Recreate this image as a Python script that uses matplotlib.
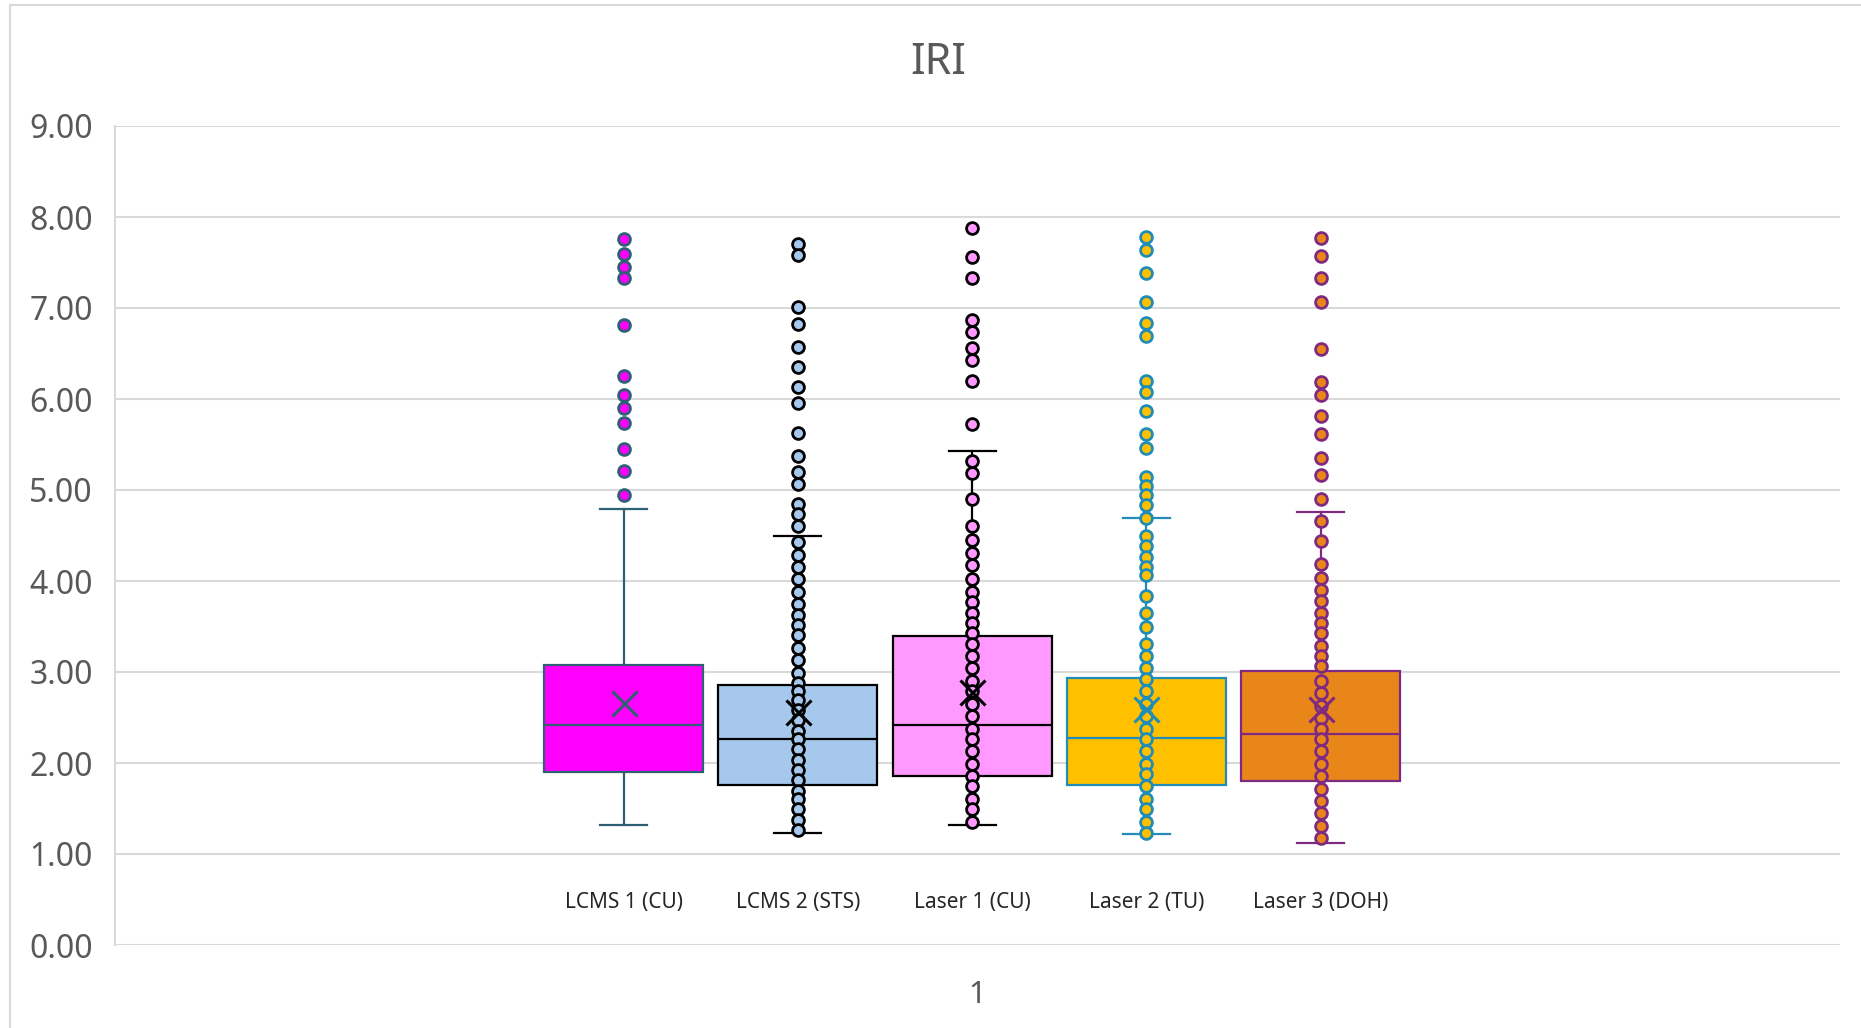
import matplotlib.pyplot as plt
from matplotlib.patches import Rectangle

plt.rcParams['font.family'] = ['Noto Sans', 'DejaVu Sans']

# --- datos del grafico IRI ---
categorias = ["LCMS 1 (CU)", "LCMS 2 (STS)", "Laser 1 (CU)", "Laser 2 (TU)", "Laser 3 (DOH)"]
q1 = [1.90, 1.76, 1.855, 1.755, 1.80]
mediana = [2.415, 2.265, 2.415, 2.279, 2.32]
q3 = [3.075, 2.857, 3.394, 2.934, 3.016]
bigote_inf = [1.323, 1.227, 1.323, 1.218, 1.118]
bigote_sup = [4.79, 4.495, 5.428, 4.691, 4.759]
media = [2.66, 2.56, 2.78, 2.59, 2.59]

atipicos = [
    [7.763, 7.59, 7.454, 7.326, 6.817, 6.248, 6.043, 5.906, 5.738, 5.451, 5.21, 4.941],
    [7.704, 7.577, 7.008, 6.826, 6.566, 6.348, 6.134, 5.952, 5.624, 5.369, 5.20, 5.064,
     4.846, 4.732, 4.60],
    [7.877, 7.558, 7.331, 6.871, 6.735, 6.557, 6.43, 6.202, 5.724],
    [7.782, 7.636, 7.386, 7.067, 6.83, 6.694, 6.202, 6.079, 5.87, 5.61, 5.465, 5.142,
     5.041, 4.941, 4.836],
    [7.772, 7.568, 7.331, 7.067, 6.553, 6.188, 6.043, 5.815, 5.61, 5.351, 5.169, 4.896],
]

# puntos interiores (LCMS 1 no los muestra)
interiores = [
    [],
    [4.427, 4.29, 4.154, 4.017, 3.88, 3.744, 3.63, 3.517, 3.403, 3.266, 3.13, 2.993,
     2.879, 2.788, 2.697, 2.584, 2.47, 2.356, 2.265, 2.151, 2.037, 1.923, 1.81, 1.696,
     1.605, 1.491, 1.377, 1.26],
    [5.324, 5.192, 4.896, 4.60, 4.45, 4.313, 4.177, 4.017, 3.88, 3.767, 3.653, 3.539,
     3.426, 3.312, 3.175, 3.039, 2.902, 2.788, 2.652, 2.515, 2.379, 2.265, 2.128, 1.992,
     1.855, 1.742, 1.605, 1.491, 1.355],
    [4.69, 4.495, 4.381, 4.268, 4.154, 4.063, 3.835, 3.653, 3.494, 3.312, 3.175, 3.048,
     2.925, 2.788, 2.652, 2.515, 2.379, 2.265, 2.128, 1.992, 1.878, 1.742, 1.605, 1.491,
     1.355, 1.227],
    [4.655, 4.436, 4.19, 4.031, 3.904, 3.776, 3.653, 3.539, 3.426, 3.289, 3.175, 3.061,
     2.902, 2.766, 2.629, 2.493, 2.379, 2.265, 2.128, 1.992, 1.855, 1.719, 1.582, 1.446,
     1.31, 1.18],
]

relleno = ["#FF00FF", "#A6C8EC", "#FF99FF", "#FFC000", "#E8861A"]
borde = ["#2F5F73", "#000000", "#000000", "#1F8DB8", "#7F2A80"]

gris = "#595959"
grid = "#D9D9D9"

fig = plt.figure(figsize=(18.61, 10.28), dpi=100)
ax = fig.add_axes([115 / 1861, 1 - 945 / 1028, (1840 - 115) / 1861, (945 - 126) / 1028])

# marco exterior del grafico
fig.patches.append(Rectangle((10 / 1861, -0.01), 1.0, 1 - 5 / 1028 + 0.01,
                             transform=fig.transFigure, fill=False,
                             edgecolor=grid, lw=1.5))

posiciones = [1, 2, 3, 4, 5]
ancho = 0.913
marca = dict(marker='o', markersize=8.5, markeredgewidth=2.0)

for i, pos in enumerate(posiciones):
    st = dict(q1=q1[i], med=mediana[i], q3=q3[i], whislo=bigote_inf[i],
              whishi=bigote_sup[i], mean=media[i], fliers=atipicos[i])
    ec = borde[i]
    ax.bxp([st], positions=[pos], widths=ancho, patch_artist=True, showmeans=True,
           capwidths=0.27,
           boxprops=dict(facecolor=relleno[i], edgecolor=ec, lw=1.6),
           medianprops=dict(color=ec, lw=1.6),
           whiskerprops=dict(color=ec, lw=1.6),
           capprops=dict(color=ec, lw=1.6),
           flierprops=dict(markerfacecolor=relleno[i], markeredgecolor=ec, **marca),
           meanprops=dict(marker='x', markersize=18, markeredgecolor=ec,
                          markeredgewidth=2.2, zorder=6))
    if interiores[i]:
        ax.plot([pos] * len(interiores[i]), interiores[i], ls='none',
                markerfacecolor=relleno[i], markeredgecolor=ec, zorder=5, **marca)
    ax.text(pos, 0.47, categorias[i], ha='center', va='center', fontsize=15,
            color="#262626")

ax.set_xlim(-1.92, 7.982)
ax.set_ylim(0, 9)
ax.set_yticks(range(10))
ax.set_yticklabels([f"{v:.2f}" for v in range(10)], fontsize=23, color=gris)
centro = (-1.92 + 7.982) / 2
ax.set_xticks([centro])
ax.set_xticklabels(["1"], fontsize=22, color=gris)
ax.tick_params(axis='both', length=0)
ax.tick_params(axis='y', pad=16)
ax.tick_params(axis='x', pad=25)

ax.yaxis.grid(True, color=grid, lw=1.5)
ax.set_axisbelow(True)
for s in ["top", "right", "bottom"]:
    ax.spines[s].set_visible(False)
ax.spines["left"].set_color(grid)
ax.spines["left"].set_linewidth(1.5)

fig.text(938 / 1861, 1 - 63 / 1028, "IRI", ha='center', va='center',
         fontsize=31, color=gris)

plt.savefig("out.png", dpi=100)
